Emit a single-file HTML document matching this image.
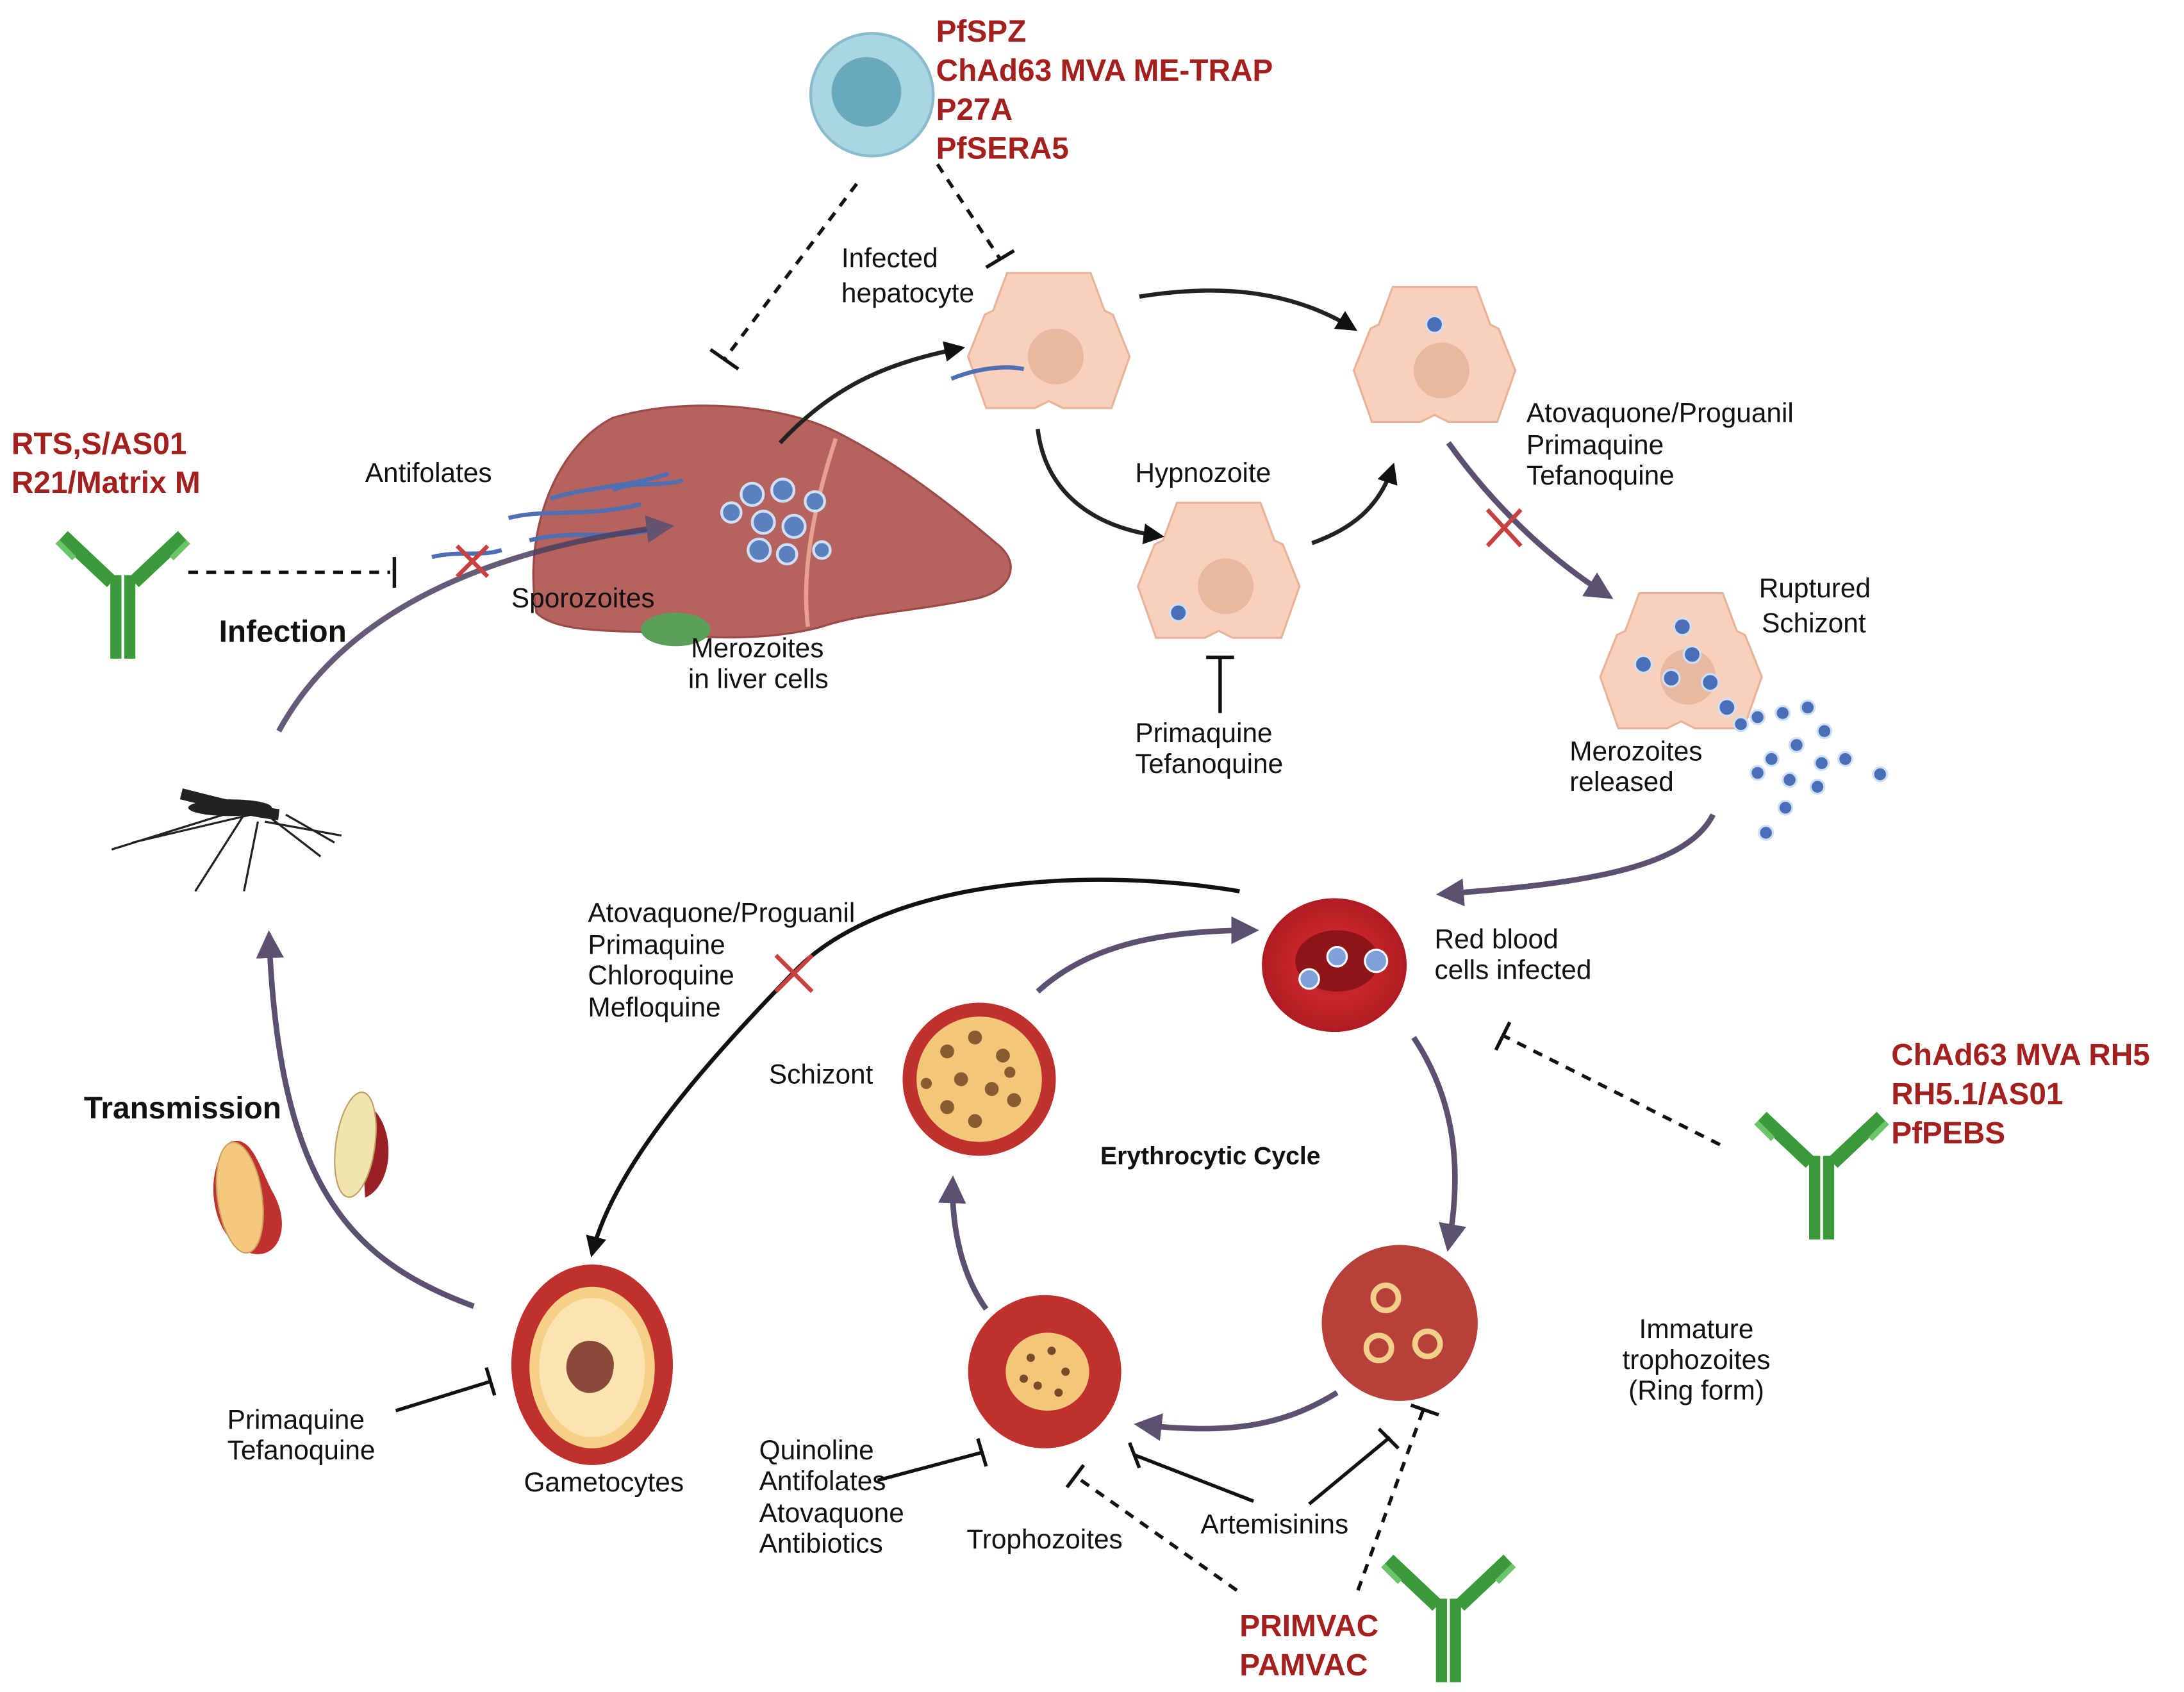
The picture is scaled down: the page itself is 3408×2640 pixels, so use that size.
<!DOCTYPE html>
<html><head><meta charset="utf-8"><style>
html,body{margin:0;padding:0;background:#fff}
svg{display:block}
text{font-family:"Liberation Sans",sans-serif;fill:#111}
.r{fill:#a3201e;font-weight:bold;font-size:22px}
.b{font-weight:bold}
</style></head><body>
<svg width="3408" height="2640" viewBox="0 0 1568 1215" xmlns="http://www.w3.org/2000/svg">
<defs>
<marker id="ah" viewBox="0 0 10 10" refX="8" refY="5" markerWidth="5" markerHeight="5" orient="auto"><path d="M0,0L10,5L0,10z" fill="#111"/></marker>
<marker id="ap" viewBox="0 0 10 10" refX="8" refY="5" markerWidth="5" markerHeight="5" orient="auto"><path d="M0,0L10,5L0,10z" fill="#5a5070"/></marker>
<g id="hep"><polygon points="-30,-52 30,-52 40,-25 46,-22 58,8 45,45 10,45 0,40 -10,45 -45,45 -58,8 -46,-22 -40,-25" fill="#f8d0bb" stroke="#e6b49b" stroke-width="1.5"/><ellipse cx="5" cy="8" rx="20" ry="20" fill="#e8b8a0"/></g>
<g id="ab"><path d="M0,0 L0,60 M10,0 L10,60" stroke="#3a9a3a" stroke-width="8" fill="none"/><path d="M-3,5 L-38,-28 M13,5 L48,-28" stroke="#3a9a3a" stroke-width="10" fill="none"/><path d="M-30,-12 L-42,-24 M40,-12 L52,-24" stroke="#6cc46c" stroke-width="4"/></g>
<radialGradient id="rbc"><stop offset="0" stop-color="#a01a20"/><stop offset="0.5" stop-color="#c8262c"/><stop offset="1" stop-color="#b01c22"/></radialGradient>
</defs>

<circle cx="626" cy="68" r="44" fill="#a9d6e2" stroke="#88bccb" stroke-width="2"/>
<circle cx="622" cy="66" r="25" fill="#6aa9bc"/>
<text class="r" x="672" y="30">PfSPZ</text>
<text class="r" x="672" y="58">ChAd63 MVA ME-TRAP</text>
<text class="r" x="672" y="86">P27A</text>
<text class="r" x="672" y="114">PfSERA5</text>
<g stroke="#111" stroke-width="2.5" fill="none">
<path d="M615,132 L520,258" stroke-dasharray="7,6"/><path d="M510,251 L530,265"/>
<path d="M673,118 L718,186" stroke-dasharray="7,6"/><path d="M708,192 L728,180"/>
<path d="M135,411 L280,411" stroke-dasharray="7,6"/><path d="M283,400 L283,422"/>
<path d="M1235,822 L1080,744" stroke-dasharray="7,6"/><path d="M1074,754 L1084,734"/>
<path d="M888,1142 L772,1060" stroke-dasharray="7,6"/><path d="M766,1068 L778,1052"/>
<path d="M975,1142 L1022,1012" stroke-dasharray="7,6"/><path d="M1013,1009 L1033,1016"/>
<path d="M876,512 L876,472"/><path d="M866,472 L886,472"/>
<path d="M284,1013 L352,992"/><path d="M349,982 L355,1002"/>
<path d="M630,1063 L705,1043"/><path d="M702,1033 L708,1053"/>
<path d="M900,1078 L815,1045"/><path d="M811,1036 L818,1054"/>
<path d="M940,1080 L998,1032"/><path d="M990,1026 L1004,1040"/>
</g>

<use href="#ab" transform="translate(83,413)"/>
<use href="#ab" transform="translate(1303,830)"/>
<use href="#ab" transform="translate(1035,1148)"/>

<text class="r" x="8" y="326">RTS,S/AS01</text>
<text class="r" x="8" y="354">R21/Matrix M</text>
<text class="r" x="1358" y="765">ChAd63 MVA RH5</text>
<text class="r" x="1358" y="793">RH5.1/AS01</text>
<text class="r" x="1358" y="821">PfPEBS</text>
<text class="r" x="890" y="1175">PRIMVAC</text>
<text class="r" x="890" y="1203">PAMVAC</text>

<path d="M385,440 C375,380 400,320 440,300 C490,285 560,290 600,310 C640,330 680,360 715,390 C735,405 725,425 700,430 C650,440 620,440 590,450 C560,458 520,460 480,455 C440,452 400,455 385,440Z" fill="#b6625f" stroke="#9a4a48" stroke-width="1.5"/>
<ellipse cx="485" cy="452" rx="25" ry="12" fill="#5aa05a"/>
<path d="M600,315 C585,360 575,410 580,450" stroke="#e8a090" stroke-width="3" fill="none"/>
<g fill="#5c7fc0" stroke="#cfe0f5" stroke-width="2">
<circle cx="540" cy="355" r="8"/><circle cx="562" cy="352" r="8"/><circle cx="548" cy="375" r="8"/><circle cx="570" cy="378" r="8"/><circle cx="525" cy="368" r="7"/><circle cx="545" cy="395" r="8"/><circle cx="565" cy="398" r="7"/><circle cx="585" cy="360" r="7"/><circle cx="590" cy="395" r="6"/>
</g>
<g stroke="#4f6fb5" stroke-width="3" fill="none">
<path d="M365,372 C390,365 420,372 460,362"/><path d="M395,358 C420,350 450,350 480,340"/><path d="M380,388 C410,380 440,388 470,380"/><path d="M440,352 C455,345 470,350 490,345"/><path d="M310,400 C330,395 345,400 360,395"/>
</g>

<use href="#hep" transform="translate(753,248)"/>
<use href="#hep" transform="translate(1030,258)"/>
<use href="#hep" transform="translate(875,413)"/>
<use href="#hep" transform="translate(1207,478)"/>
<path d="M683,272 C700,265 720,262 735,265" stroke="#4f6fb5" stroke-width="3" fill="none"/>
<g fill="#4a6fb8" stroke="#cfe0f5" stroke-width="1.5">
<circle cx="1030" cy="233" r="6"/><circle cx="846" cy="440" r="6"/>
<circle cx="1208" cy="450" r="6"/><circle cx="1180" cy="477" r="6"/><circle cx="1200" cy="487" r="6"/><circle cx="1215" cy="470" r="6"/><circle cx="1228" cy="490" r="6"/><circle cx="1240" cy="508" r="6"/>
<circle cx="1262" cy="515" r="5"/><circle cx="1280" cy="512" r="5"/><circle cx="1298" cy="508" r="5"/><circle cx="1310" cy="525" r="5"/><circle cx="1290" cy="535" r="5"/><circle cx="1272" cy="545" r="5"/><circle cx="1308" cy="548" r="5"/><circle cx="1325" cy="545" r="5"/><circle cx="1350" cy="556" r="5"/><circle cx="1285" cy="560" r="5"/><circle cx="1262" cy="555" r="5"/><circle cx="1305" cy="565" r="5"/><circle cx="1282" cy="580" r="5"/><circle cx="1268" cy="598" r="5"/><circle cx="1250" cy="520" r="5"/>
</g>

<g fill="none" stroke-width="3">
<path d="M560,318 C600,275 640,260 690,250" stroke="#222" marker-end="url(#ah)"/>
<path d="M818,213 C880,203 930,210 972,236" stroke="#222" marker-end="url(#ah)"/>
<path d="M745,308 C750,350 780,378 833,385" stroke="#222" marker-end="url(#ah)"/>
<path d="M942,390 C970,380 990,365 1000,335" stroke="#222" marker-end="url(#ah)"/>
<path d="M1040,318 C1070,360 1110,400 1155,428" stroke="#5a5070" stroke-width="4" marker-end="url(#ap)"/>
<path d="M200,525 C230,470 300,400 480,378" stroke="#4a4060" stroke-width="4" marker-end="url(#ap)" opacity="0.85"/>
<path d="M1230,585 C1210,625 1130,635 1035,642" stroke="#5a5070" stroke-width="4" marker-end="url(#ap)"/>
<path d="M890,640 C770,620 630,635 570,698 C500,770 440,840 425,900" stroke="#111" marker-end="url(#ah)"/>
<path d="M745,712 C780,680 830,668 900,668" stroke="#5a5070" stroke-width="4" marker-end="url(#ap)"/>
<path d="M1015,745 C1045,790 1050,840 1040,895" stroke="#5a5070" stroke-width="4" marker-end="url(#ap)"/>
<path d="M960,1000 C920,1025 880,1030 818,1023" stroke="#5a5070" stroke-width="4" marker-end="url(#ap)"/>
<path d="M708,940 C690,915 683,880 684,848" stroke="#5a5070" stroke-width="4" marker-end="url(#ap)"/>
<path d="M340,938 C250,905 200,850 193,672" stroke="#5a5070" stroke-width="4" marker-end="url(#ap)"/>
</g>
<g stroke="#c94040" stroke-width="3"><path d="M328,392 L350,414 M350,392 L328,414"/><path d="M1068,366 L1092,392 M1092,366 L1068,392"/><path d="M557,686 L583,712 M583,686 L557,712"/></g>

<ellipse cx="958" cy="693" rx="52" ry="48" fill="url(#rbc)"/>
<ellipse cx="960" cy="690" rx="30" ry="22" fill="#8e1418"/>
<g fill="#7fa0d8" stroke="#fff" stroke-width="1.5"><circle cx="940" cy="703" r="7"/><circle cx="960" cy="687" r="7"/><circle cx="988" cy="690" r="8"/></g>
<circle cx="703" cy="775" r="55" fill="#c0302c"/><circle cx="703" cy="775" r="45" fill="#f2c77a"/>
<g fill="#8a5a30"><circle cx="680" cy="755" r="5"/><circle cx="700" cy="745" r="5"/><circle cx="720" cy="758" r="5"/><circle cx="690" cy="775" r="5"/><circle cx="712" cy="782" r="5"/><circle cx="728" cy="790" r="5"/><circle cx="680" cy="795" r="5"/><circle cx="700" cy="805" r="5"/><circle cx="725" cy="770" r="4"/><circle cx="665" cy="778" r="4"/></g>
<circle cx="1005" cy="950" r="56" fill="#b8403a"/>
<g fill="none" stroke="#f2d08a" stroke-width="4"><circle cx="995" cy="932" r="9"/><circle cx="990" cy="968" r="9"/><circle cx="1025" cy="965" r="9"/></g>
<circle cx="750" cy="985" r="55" fill="#c0302c"/><ellipse cx="752" cy="985" rx="30" ry="28" fill="#f2c77a"/>
<g fill="#7a4a28"><circle cx="740" cy="975" r="3"/><circle cx="755" cy="970" r="3"/><circle cx="765" cy="985" r="3"/><circle cx="745" cy="995" r="3"/><circle cx="760" cy="1000" r="3"/><circle cx="735" cy="990" r="3"/></g>
<ellipse cx="425" cy="980" rx="58" ry="72" fill="#c0302c"/><ellipse cx="425" cy="982" rx="45" ry="58" fill="#f5d086"/><ellipse cx="425" cy="982" rx="38" ry="50" fill="#fbe4b0"/>
<path d="M410,970 C420,955 445,965 440,985 C438,1000 420,1005 412,995 C405,988 405,978 410,970Z" fill="#8a4a3a"/>
<path d="M165,820 C145,840 150,890 180,900 C200,905 210,880 195,855 C185,835 180,815 165,820Z" fill="#c0302c"/>
<ellipse cx="172" cy="860" rx="16" ry="40" fill="#f5c880" stroke="#c9a060" transform="rotate(-8 172 860)"/>
<path d="M258,790 C285,800 285,850 262,860Z" fill="#9a2025"/>
<ellipse cx="255" cy="822" rx="14" ry="38" fill="#f0e4b0" stroke="#c0a060" transform="rotate(8 255 822)"/>

<g stroke="#222" stroke-width="1.5" fill="none">
<path d="M130,570 C150,575 175,582 200,585" stroke-width="8"/>
<path d="M175,585 L140,640 M180,585 L95,605 M190,590 L245,600 M195,588 L230,615 M170,582 L80,610 M185,590 L175,640"/>
<path d="M205,585 L240,605"/>
</g>
<ellipse cx="165" cy="580" rx="30" ry="6" fill="#222"/>

<g font-size="19.5">
<text x="604" y="192">Infected</text><text x="604" y="217">hepatocyte</text>
<text x="262" y="346">Antifolates</text>
<text x="367" y="436">Sporozoites</text>
<text x="496" y="472">Merozoites</text><text x="494" y="494">in liver cells</text>
<text x="815" y="346">Hypnozoite</text>
<text x="815" y="533">Primaquine</text><text x="815" y="555">Tefanoquine</text>
<text x="1096" y="303">Atovaquone/Proguanil</text><text x="1096" y="326">Primaquine</text><text x="1096" y="348">Tefanoquine</text>
<text x="1263" y="429">Ruptured</text><text x="1265" y="454">Schizont</text>
<text x="1127" y="546">Merozoites</text><text x="1127" y="568">released</text>
<text x="1030" y="681">Red blood</text><text x="1030" y="703">cells infected</text>
<text x="422" y="662">Atovaquone/Proguanil</text><text x="422" y="685">Primaquine</text><text x="422" y="707">Chloroquine</text><text x="422" y="730">Mefloquine</text>
<text x="552" y="778">Schizont</text>
<text x="1218" y="961" text-anchor="middle">Immature</text><text x="1218" y="983" text-anchor="middle">trophozoites</text><text x="1218" y="1005" text-anchor="middle">(Ring form)</text>
<text x="163" y="1026">Primaquine</text><text x="163" y="1048">Tefanoquine</text>
<text x="376" y="1071">Gametocytes</text>
<text x="545" y="1048">Quinoline</text><text x="545" y="1070">Antifolates</text><text x="545" y="1093">Atovaquone</text><text x="545" y="1115">Antibiotics</text>
<text x="694" y="1112">Trophozoites</text>
<text x="862" y="1101">Artemisinins</text>
</g>
<text x="790" y="836" font-size="18" class="b" fill="#333">Erythrocytic Cycle</text>
<text x="157" y="461" font-size="22" class="b">Infection</text>
<text x="60" y="803" font-size="22" class="b">Transmission</text>
</svg>
</body></html>
